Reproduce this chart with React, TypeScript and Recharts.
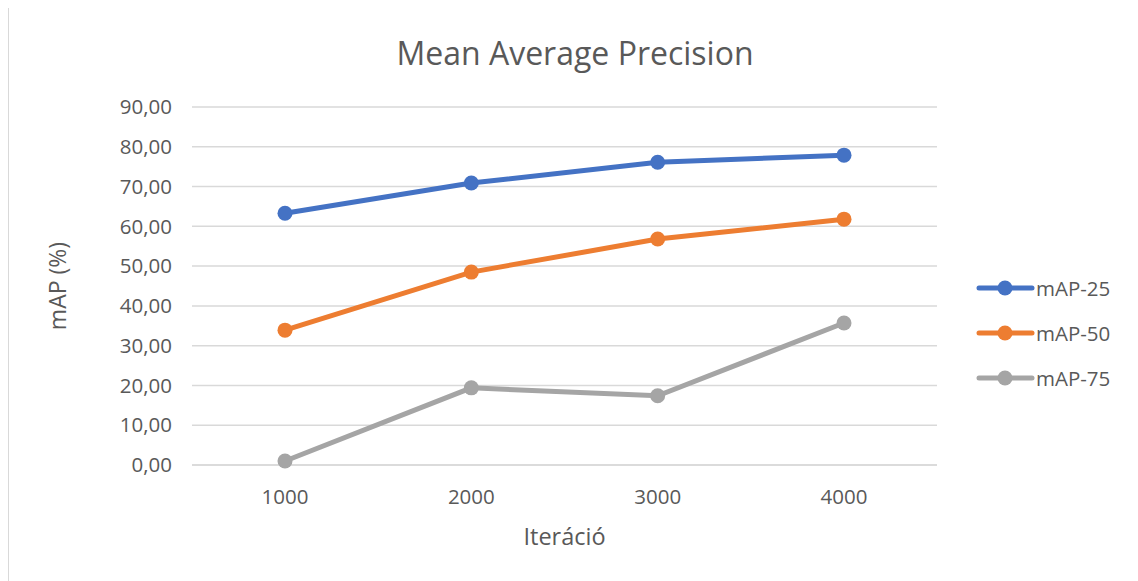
import { LineChart, Line, XAxis, YAxis, CartesianGrid } from 'recharts';

const iterations = ['1000', '2000', '3000', '4000'];
const map25 = [63.3, 70.9, 76.1, 77.9];
const map50 = [33.9, 48.5, 56.8, 61.8];
const map75 = [1.0, 19.4, 17.4, 35.7];
const yTicks = [0, 10, 20, 30, 40, 50, 60, 70, 80, 90];

const series = [
  { key: 'mAP-25', values: map25, color: '#4472C4' },
  { key: 'mAP-50', values: map50, color: '#ED7D31' },
  { key: 'mAP-75', values: map75, color: '#A5A5A5' },
];

const data = iterations.map((it, i) => {
  const row: Record<string, string | number> = { it };
  series.forEach(s => {
    row[s.key] = s.values[i];
  });
  return row;
});

const FONT = '"Open Sans", sans-serif';
const TEXT = '#595959';

const fmt = (v: number) => v.toFixed(2).replace('.', ',');

// legend sits to the right of the plot, outside the chart's own layout
const LegendBox = () => (
  <div style={{ position: 'absolute', left: 968, top: 257, fontFamily: FONT, fontSize: 20.5, color: TEXT }}>
    {series.map(s => (
      <div key={s.key} style={{ display: 'flex', alignItems: 'center', height: 45 }}>
        <svg width={60} height={18}>
          <line x1={3} y1={9} x2={56} y2={9} stroke={s.color} strokeWidth={5} strokeLinecap="round" />
          <circle cx={29} cy={9} r={7.5} fill={s.color} />
        </svg>
        <span>{s.key}</span>
      </div>
    ))}
  </div>
);

export default function App() {
  return (
    <div style={{ width: 1130, height: 573, position: 'relative', background: '#fff' }}>
      <div
        style={{
          position: 'absolute',
          top: -1,
          left: 0,
          width: 1130,
          height: 574,
          borderTop: '1.5px solid #d9d9d9',
          borderLeft: '1.5px solid #d9d9d9',
          boxSizing: 'border-box',
          pointerEvents: 'none',
        }}
      />
      <div
        style={{
          position: 'absolute',
          top: 23,
          left: 0,
          width: 1134,
          textAlign: 'center',
          fontFamily: FONT,
          fontSize: 32,
          color: TEXT,
        }}
      >
        Mean Average Precision
      </div>
      <LineChart width={1130} height={573} data={data} margin={{ top: 99, right: 201, bottom: 56, left: 0 }}>
        <CartesianGrid vertical={false} stroke="#d9d9d9" strokeWidth={1.5} />
        <XAxis
          dataKey="it"
          height={60}
          axisLine={{ stroke: '#d9d9d9', strokeWidth: 1.5 }}
          tickLine={false}
          tickMargin={18}
          tick={{ fill: TEXT, fontFamily: FONT, fontSize: 20.5 }}
          padding={{ left: 93, right: 93 }}
          label={{ value: 'Iteráció', position: 'insideBottom', offset: -20, fill: TEXT, fontFamily: FONT, fontSize: 23.5 }}
        />
        <YAxis
          width={184}
          domain={[0, 90]}
          ticks={yTicks}
          tickFormatter={fmt}
          axisLine={false}
          tickLine={false}
          tickMargin={14}
          tick={{ fill: TEXT, fontFamily: FONT, fontSize: 20.5 }}
          label={{ value: 'mAP (%)', angle: -90, position: 'insideLeft', offset: 50, fill: TEXT, fontFamily: FONT, fontSize: 23, style: { textAnchor: 'middle' } }}
        />
        {series.map(s => (
          <Line
            key={s.key}
            dataKey={s.key}
            stroke={s.color}
            strokeWidth={5}
            dot={{ r: 7.5, fill: s.color, stroke: s.color, strokeWidth: 0 }}
            isAnimationActive={false}
          />
        ))}
      </LineChart>
      <LegendBox />
    </div>
  );
}
